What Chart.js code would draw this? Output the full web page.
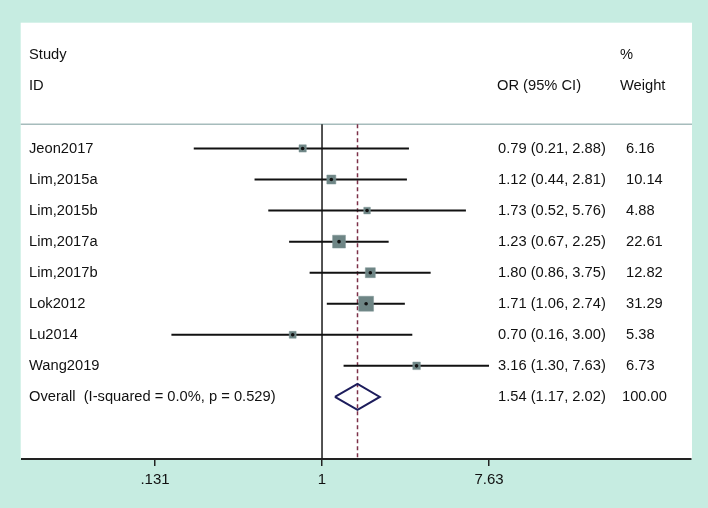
<!DOCTYPE html>
<html>
<head>
<meta charset="utf-8">
<script src="https://cdn.jsdelivr.net/npm/chart.js@4.4.1/dist/chart.umd.min.js"></script>
<style>
  html, body { margin: 0; padding: 0; background: #c6ece1; }
  canvas { display: block; }
</style>
</head>
<body>
<canvas id="c" width="708" height="508"></canvas>
<script>
// ---- data ----
const studies = ['Jeon2017', 'Lim,2015a', 'Lim,2015b', 'Lim,2017a', 'Lim,2017b', 'Lok2012', 'Lu2014', 'Wang2019'];
const oddsRatio = [0.79, 1.12, 1.73, 1.23, 1.80, 1.71, 0.70, 3.16];
const ciLow = [0.21, 0.44, 0.52, 0.67, 0.86, 1.06, 0.16, 1.30];
const ciHigh = [2.88, 2.81, 5.76, 2.25, 3.75, 2.74, 3.00, 7.63];
const weights = [6.16, 10.14, 4.88, 22.61, 12.82, 31.29, 5.38, 6.73];
const overallLabel = ['Overall  (I-squared = 0.0%, p = 0.529)'];
const overallOR = [1.54];
const overallLow = [1.17];
const overallHigh = [2.02];
const overallWeight = [100.00];
const tickValues = [0.131, 1, 7.63];
const tickLabels = ['.131', '1', '7.63'];

// ---- style constants ----
const FONT = '"Liberation Sans", Arial, sans-serif';
const nStudies = studies.length;
const overallRow = nStudies;
const sepRow = -0.78;
const yBottom = 10;

const datasets = [];
// null line at OR = 1
datasets.push({
  type: 'line', data: [{x: 1, y: sepRow}, {x: 1, y: yBottom}],
  borderColor: '#1a1a1a', borderWidth: 1.5, pointRadius: 0, order: 5
});
// overall dashed line
datasets.push({
  type: 'line', data: [{x: overallOR[0], y: sepRow}, {x: overallOR[0], y: yBottom}],
  borderColor: '#7d3048', borderWidth: 1.5, borderDash: [4, 3], pointRadius: 0, order: 4
});
// CI lines
studies.forEach((s, i) => {
  datasets.push({
    type: 'line', data: [{x: ciLow[i], y: i}, {x: ciHigh[i], y: i}],
    borderColor: '#111', borderWidth: 2, pointRadius: 0, order: 3
  });
});
// weight boxes
datasets.push({
  type: 'scatter',
  data: studies.map((s, i) => ({x: oddsRatio[i], y: i})),
  pointStyle: 'rect',
  pointRadius: weights.map(w => (1.2 + 2.45 * Math.sqrt(w)) / Math.SQRT2),
  backgroundColor: '#6e8585', borderColor: '#7f9696', borderWidth: 0.5, order: 2
});
// point estimates
datasets.push({
  type: 'scatter',
  data: studies.map((s, i) => ({x: oddsRatio[i], y: i})),
  pointStyle: 'circle', pointRadius: 1.8,
  backgroundColor: '#111', borderColor: '#111', borderWidth: 0, order: 1
});
// overall diamond
const dh = 0.42;
datasets.push({
  type: 'line',
  data: [
    {x: overallLow[0], y: overallRow},
    {x: overallOR[0], y: overallRow - dh},
    {x: overallHigh[0], y: overallRow},
    {x: overallOR[0], y: overallRow + dh},
    {x: overallLow[0], y: overallRow}
  ],
  borderColor: '#1d1d5c', borderWidth: 2, pointRadius: 0, tension: 0, order: 0
});

const panelPlugin = {
  id: 'panel',
  beforeDraw(chart) {
    const {ctx, chartArea: a} = chart;
    ctx.save();
    ctx.fillStyle = '#ffffff';
    ctx.fillRect(a.left - 1, a.top, a.right - a.left + 2, a.bottom - a.top);
    // separator line under header
    const ys = chart.scales.y.getPixelForValue(sepRow);
    ctx.strokeStyle = '#a6bcbc';
    ctx.lineWidth = 1.5;
    ctx.beginPath();
    ctx.moveTo(a.left - 1, ys);
    ctx.lineTo(a.right + 1, ys);
    ctx.stroke();
    ctx.restore();
  },
  afterDraw(chart) {
    const {ctx} = chart;
    const y = chart.scales.y;
    ctx.save();
    ctx.fillStyle = '#111';
    ctx.font = '14.7px ' + FONT;
    ctx.textBaseline = 'middle';
    ctx.textAlign = 'left';
    // headers
    ctx.fillText('Study', 29, y.getPixelForValue(-3));
    ctx.fillText('ID', 29, y.getPixelForValue(-2));
    ctx.fillText('OR (95% CI)', 497, y.getPixelForValue(-2));
    ctx.fillText('%', 620, y.getPixelForValue(-3));
    ctx.fillText('Weight', 620, y.getPixelForValue(-2));
    // rows
    studies.forEach((s, i) => {
      const py = y.getPixelForValue(i);
      ctx.fillText(s, 29, py);
      ctx.fillText(oddsRatio[i].toFixed(2) + ' (' + ciLow[i].toFixed(2) + ', ' + ciHigh[i].toFixed(2) + ')', 498, py);
      ctx.fillText(weights[i].toFixed(2), 626, py);
    });
    const po = y.getPixelForValue(overallRow);
    ctx.fillText(overallLabel[0], 29, po);
    ctx.fillText(overallOR[0].toFixed(2) + ' (' + overallLow[0].toFixed(2) + ', ' + overallHigh[0].toFixed(2) + ')', 498, po);
    ctx.fillText(overallWeight[0].toFixed(2), 622, po);
    ctx.restore();
  }
};

new Chart(document.getElementById('c'), {
  type: 'scatter',
  data: {datasets},
  options: {
    responsive: false,
    animation: false,
    devicePixelRatio: 1,
    layout: {padding: {left: 21.7, right: 17, top: 22.7, bottom: 0}},
    plugins: {legend: {display: false}, tooltip: {enabled: false}},
    elements: {line: {tension: 0}},
    scales: {
      x: {
        type: 'logarithmic',
        min: 0.02588,
        max: 89.1,
        bounds: 'data',
        afterBuildTicks: s => { s.ticks = tickValues.map(v => ({value: v})); },
        afterFit: s => { s.height = 49; },
        grid: {display: true, drawOnChartArea: false, drawTicks: true, tickLength: 7, color: '#222', lineWidth: 1.5},
        border: {display: true, color: '#222', width: 2},
        ticks: {
          autoSkip: false, maxRotation: 0, padding: 5,
          color: '#111', font: {family: FONT, size: 15},
          callback: (v, i) => tickLabels[i]
        }
      },
      y: {
        type: 'linear', reverse: true, min: -4.05, max: yBottom,
        display: false
      }
    }
  },
  plugins: [panelPlugin]
});
</script>
</body>
</html>
